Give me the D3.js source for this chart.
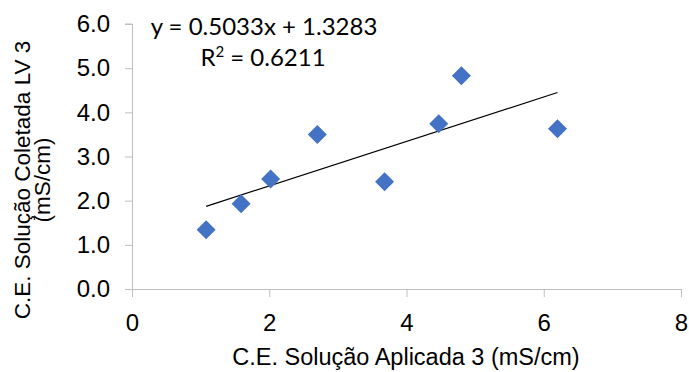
<!DOCTYPE html>
<html lang="en">
<head>
<meta charset="utf-8">
<title>C.E. LV 3</title>
<script src="https://d3js.org/d3.v7.min.js"></script>
<style>
  body { margin: 0; background: #fff; }
  text { font-family: "Liberation Sans", Arial, sans-serif; fill: #000; }
</style>
</head>
<body>
<div id="chart"></div>
<script>
// data
const xVals = [1.08, 1.59, 2.02, 2.70, 3.68, 4.47, 4.80, 6.20];
const yVals = [1.34, 1.93, 2.49, 3.50, 2.43, 3.74, 4.83, 3.63];
const xTicks = [0, 2, 4, 6, 8];
const yTicks = [0, 1, 2, 3, 4, 5, 6];
const slope = 0.5033, intercept = 1.3283;
const eqLabel = "y = 0.5033x + 1.3283";
const r2Value = "0.6211";

const width = 689, height = 372;
const margin = {top: 24, right: 8, bottom: 83, left: 132};

const svg = d3.select("#chart").append("svg")
  .attr("width", width).attr("height", height);

const x = d3.scaleLinear().domain([0, 8]).range([margin.left, width - margin.right]);
const y = d3.scaleLinear().domain([0, 6]).range([height - margin.bottom, margin.top]);

// y axis
const yAxis = svg.append("g")
  .attr("transform", `translate(${margin.left},0)`)
  .call(d3.axisLeft(y).tickValues(yTicks).tickSize(7).tickPadding(15).tickFormat(d3.format(".1f")));
yAxis.select(".domain").attr("stroke", "#bfbfbf").attr("d", `M-7,${y(6)}H0.5V${y(0)}`);
yAxis.selectAll(".tick line").attr("stroke", "#bfbfbf");
yAxis.selectAll(".tick text").attr("font-size", 24).attr("font-family", "Liberation Sans, Arial, sans-serif");

// x axis
const xAxis = svg.append("g")
  .attr("transform", `translate(0,${y(0)})`)
  .call(d3.axisBottom(x).tickValues(xTicks).tickSize(8).tickPadding(17));
xAxis.select(".domain").attr("stroke", "#bfbfbf").attr("d", `M${x(0)},0.5H${x(8)}`);
xAxis.selectAll(".tick line").attr("stroke", "#bfbfbf");
xAxis.selectAll(".tick text").attr("font-size", 24).attr("font-family", "Liberation Sans, Arial, sans-serif");

// trend line
const xMin = d3.min(xVals), xMax = d3.max(xVals);
svg.append("line")
  .attr("x1", x(xMin)).attr("y1", y(slope * xMin + intercept))
  .attr("x2", x(xMax)).attr("y2", y(slope * xMax + intercept))
  .attr("stroke", "#000").attr("stroke-width", 1.2);

// diamonds
const pts = xVals.map((v, i) => ({x: v, y: yVals[i]}));
svg.selectAll("path.pt").data(pts).enter().append("path")
  .attr("class", "pt")
  .attr("d", "M0,-9.5L9.5,0L0,9.5L-9.5,0Z")
  .attr("transform", d => `translate(${x(d.x)},${y(d.y)})`)
  .attr("fill", "#4472c4");

// equation labels
svg.append("text").attr("x", 264).attr("y", 35)
  .attr("text-anchor", "middle").attr("font-size", 24)
  .style("font-family", "Lato, 'Open Sans', sans-serif")
  .text(eqLabel);
const r2 = svg.append("text").attr("x", 263).attr("y", 66)
  .attr("text-anchor", "middle").attr("font-size", 24)
  .style("font-family", "Lato, 'Open Sans', sans-serif");
r2.append("tspan").text("R");
r2.append("tspan").attr("dy", -9).attr("font-size", 15).text("2");
r2.append("tspan").attr("dy", 9).text(" = " + r2Value);

// axis titles
svg.append("text").attr("x", 406).attr("y", 365)
  .attr("text-anchor", "middle").attr("font-size", 23.5)
  .text("C.E. Solução Aplicada 3 (mS/cm)");

const yt = svg.append("text")
  .attr("transform", "translate(30,180) rotate(-90)")
  .attr("text-anchor", "middle").attr("font-size", 22.5);
yt.append("tspan").attr("x", 0).attr("y", 0).text("C.E. Solução Coletada LV 3");
yt.append("tspan").attr("x", 0).attr("y", 20).text("(mS/cm)");
</script>
</body>
</html>
